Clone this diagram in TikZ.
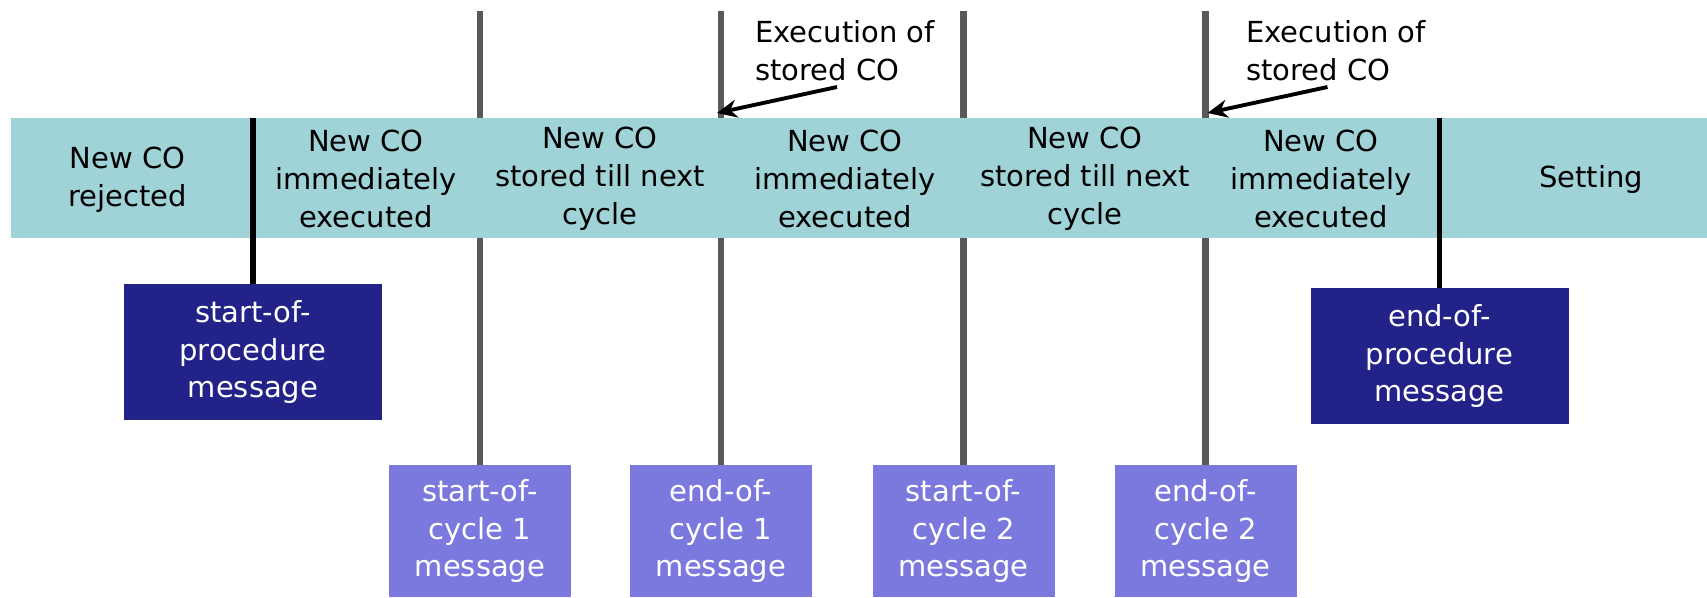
\documentclass[tikz,border=0pt]{standalone}
\usepackage{fontspec}
\setmainfont{DejaVu Sans}
\usetikzlibrary{arrows.meta}
\definecolor{bandcol}{RGB}{159,211,215}
\definecolor{procblue}{RGB}{34,34,136}
\definecolor{cycleblue}{RGB}{123,121,221}
\definecolor{linegray}{RGB}{89,89,89}

\begin{document}
\begin{tikzpicture}[
        txt/.style = {font=\fontsize{16.5}{21.5}\selectfont, align=center, inner sep=0pt},
        band/.style = {fill=bandcol, inner sep=0pt, minimum width=33.92cm, minimum height=2.4cm},
        procmsg/.style = {txt, fill=procblue, text=white, minimum width=5.16cm, minimum height=2.72cm},
        cyclemsg/.style = {txt, fill=cycleblue, text=white, minimum width=3.64cm, minimum height=2.64cm},
        cycleline/.style = {draw=linegray, line width=3.8pt},
        procline/.style = {draw=black, line width=3.1pt},
        note/.style = {txt, align=left, anchor=north west},
        exec/.style = {-{Stealth[length=4mm, width=3.6mm]}, line width=2.2pt}
    ]
        \useasboundingbox (0,0) rectangle (34.14,11.94);
        % messages
        \node[procmsg] (sp) at (5.06,4.9) {start-of-\\procedure\\message};
        \node[procmsg] (ep) at (28.79,4.82) {end-of-\\procedure\\message};
        \node[cyclemsg] (sc1) at (9.6,1.32) {start-of-\\cycle 1\\message};
        \node[cyclemsg] (ec1) at (14.42,1.32) {end-of-\\cycle 1\\message};
        \node[cyclemsg] (sc2) at (19.27,1.32) {start-of-\\cycle 2\\message};
        \node[cyclemsg] (ec2) at (24.11,1.32) {end-of-\\cycle 2\\message};
        % cycle lines, behind the band
        \coordinate (top) at (0,11.72);
        \foreach \m in {sc1,ec1,sc2,ec2}
            \draw[cycleline] (\m.north |- top) -- (\m.north);
        % the band
        \node[band] (band) at (17.18,8.38) {};
        \node[txt] (rej) at (2.55,8.34) {New CO\\rejected};
        \node[txt] (imm1) at (7.32,8.36) {New CO\\immediately\\executed};
        \node[txt] (sto1) at (12.0,8.36) {New CO\\stored till next\\cycle};
        \node[txt] (imm2) at (16.9,8.36) {New CO\\immediately\\executed};
        \node[txt] (sto2) at (21.7,8.36) {New CO\\stored till next\\cycle};
        \node[txt] (imm3) at (26.42,8.36) {New CO\\immediately\\executed};
        \node[txt] (set) at (31.82,8.36) {Setting};
        % procedure lines
        \draw[procline] (sp.north |- band.north) -- (sp.north);
        \draw[procline] (ep.north |- band.north) -- (ep.north);
        % execution of stored CO
        \node[note] (exe1) at (15.1,11.54) {Execution of\\stored CO};
        \node[note] (exe2) at (24.92,11.54) {Execution of\\stored CO};
        \coordinate (tail1) at (16.74,10.2);
        \coordinate (tip1) at (14.34,9.68);
        \coordinate (tail2) at (26.55,10.2);
        \coordinate (tip2) at (24.15,9.68);
        \draw[exec] (tail1) -- (tip1);
        \draw[exec] (tail2) -- (tip2);
\end{tikzpicture}
\end{document}
